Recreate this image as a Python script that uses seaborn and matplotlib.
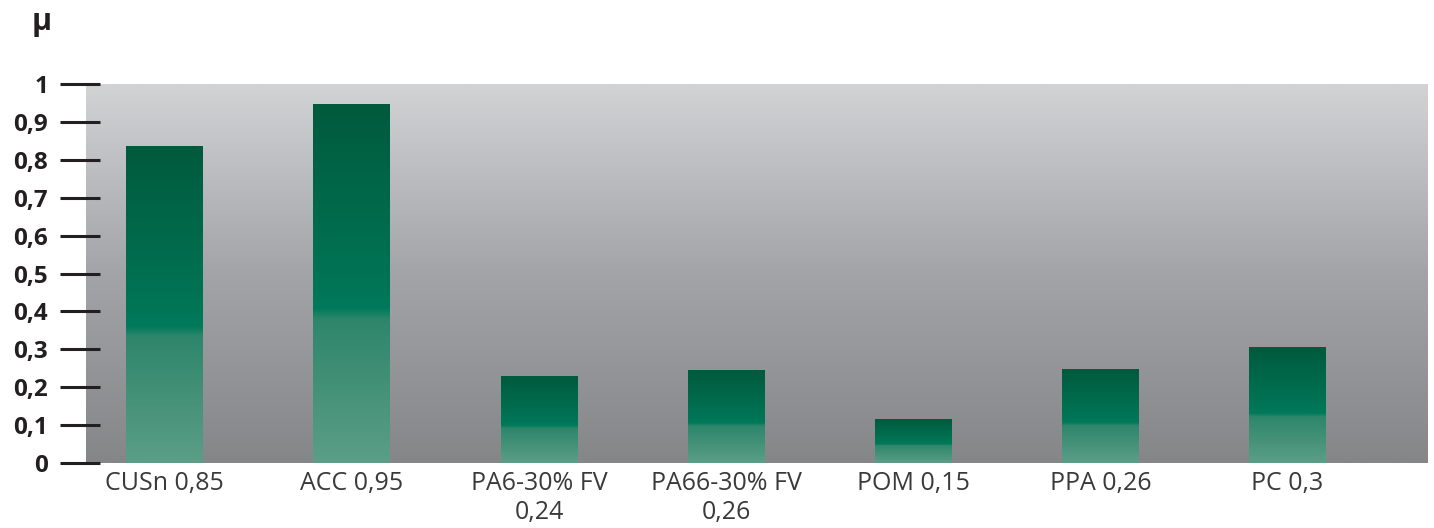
import numpy as np
import pandas as pd
import seaborn as sns
import matplotlib
matplotlib.use('Agg')
import matplotlib.pyplot as plt
from matplotlib.colors import LinearSegmentedColormap
from matplotlib.ticker import FuncFormatter, MultipleLocator

# Data
materials = ['CUSn 0,85', 'ACC 0,95', 'PA6-30% FV\n0,24', 'PA66-30% FV\n0,26',
             'POM 0,15', 'PPA 0,26', 'PC 0,3']
mu_values = [0.834, 0.947, 0.229, 0.245, 0.116, 0.248, 0.306]

df = pd.DataFrame({'material': materials, 'mu': mu_values})

sns.set_style('white')
plt.rcParams['font.family'] = ['Open Sans', 'DejaVu Sans']

fig = plt.figure(figsize=(14.34, 5.28), dpi=100)
ax = fig.add_axes([86 / 1434, 65 / 528, 1342 / 1434, 379 / 528])

sns.barplot(data=df, x='material', y='mu', ax=ax, width=0.41,
            color='#007557', saturation=1, zorder=2)

ax.set_xlim(-0.42, 6.75)
ax.set_ylim(0, 1)

# grey background gradient (light at top, darker at bottom)
bg = LinearSegmentedColormap.from_list('bg', ['#858688', '#a3a4a7', '#d2d3d5'])
grad = np.linspace(0, 1, 256).reshape(-1, 1)
ax.imshow(grad, cmap=bg, origin='lower', aspect='auto',
          extent=(-0.42, 6.75, 0, 1), zorder=0)

# green bar gradient, stops from the bottom of each bar
green = LinearSegmentedColormap.from_list('green', [
    (0.0, '#5c9e87'),
    (0.40, '#2e866a'),
    (0.43, '#007a5c'),
    (0.48, '#007657'),
    (1.0, '#005a3c'),
])
for p in ax.patches:
    x0, w, h = p.get_x(), p.get_width(), p.get_height()
    ax.imshow(grad, cmap=green, origin='lower', aspect='auto',
              extent=(x0, x0 + w, 0, h), zorder=3)
    p.set_visible(False)

ax.set_xlim(-0.42, 6.75)
ax.set_ylim(0, 1)

for s in ['top', 'right', 'bottom']:
    ax.spines[s].set_visible(False)
ax.spines['left'].set_position(('outward', -10.08))
ax.spines['left'].set_visible(False)

ax.yaxis.set_major_locator(MultipleLocator(0.1))
ax.yaxis.set_major_formatter(FuncFormatter(
    lambda v, pos: ('%g' % round(v, 1)).replace('.', ',')))
ax.tick_params(axis='y', left=True, direction='out', length=28.8, width=2.2,
               color='#231f20', pad=8.5, labelsize=17.5, labelcolor='#231f20')
for t in ax.get_yticklabels():
    t.set_fontweight('bold')
ax.tick_params(axis='x', bottom=False, length=0, pad=6, labelsize=18,
               labelcolor='#3a3a3a')

ax.set_xlabel('')
ax.set_ylabel('')
fig.text(42 / 1434, 1 - 22 / 528, 'μ', fontsize=22, fontweight='bold',
         color='#231f20', ha='center', va='center')

plt.savefig('out.png', dpi=100)
